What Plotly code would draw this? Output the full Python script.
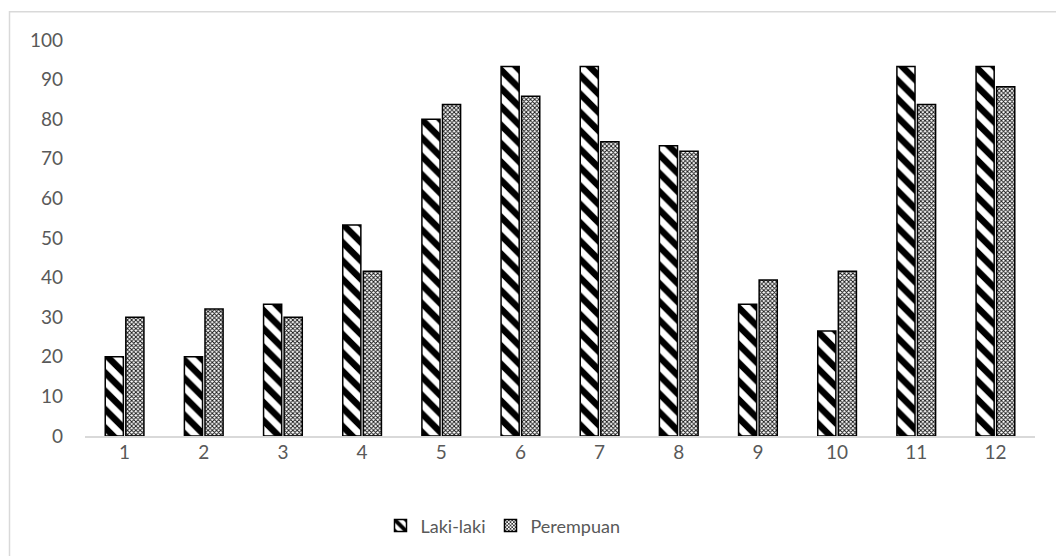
import plotly.graph_objects as go

# Category labels and series values
categories = ["1", "2", "3", "4", "5", "6", "7", "8", "9", "10", "11", "12"]
laki_laki = [20, 20, 33.3, 53.3, 80, 93.3, 93.3, 73.3, 33.3, 26.5, 93.3, 93.3]
perempuan = [30, 32.1, 30, 41.6, 83.7, 85.8, 74.3, 71.9, 39.4, 41.6, 83.7, 88.2]
y_ticks = [0, 10, 20, 30, 40, 50, 60, 70, 80, 90, 100]

FONT = "Lato"
TEXT_COLOR = "#595959"
FSIZE = 19
W, H = 1056, 556
ML, MR, MT, MB = 85, 21, 40, 116

fig = go.Figure()
fig.add_trace(go.Bar(
    x=categories, y=laki_laki, name="Laki-laki",
    marker=dict(
        color="white",
        line=dict(color="black", width=1.5),
        pattern=dict(shape="\\", fgcolor="black", bgcolor="white", fgopacity=1,
                     size=13, solidity=0.5, fillmode="replace"),
    ),
))
fig.add_trace(go.Bar(
    x=categories, y=perempuan, name="Perempuan",
    marker=dict(
        color="white",
        line=dict(color="black", width=1.5),
        pattern=dict(shape="x", fgcolor="#111111", bgcolor="white", fgopacity=1,
                     size=3, solidity=0.5, fillmode="replace"),
    ),
))

# Outer chart-area frame (only left and top edges fall inside the page)
pw = W - ML - MR
ph = H - MT - MB
fig.add_shape(
    type="rect", xref="paper", yref="paper",
    x0=(9.5 - ML) / pw, x1=(W + 20 - ML) / pw,
    y0=-(H + 20 - MT - ph) / ph, y1=(H - MB - 11.5) / ph,
    line=dict(color="#d9d9d9", width=1.5), fillcolor="rgba(0,0,0,0)",
    layer="below",
)

fig.update_layout(
    width=W, height=H,
    margin=dict(l=ML, r=MR, t=MT, b=MB),
    paper_bgcolor="white", plot_bgcolor="white",
    barmode="group", bargap=0.48, bargroupgap=0.12,
    font=dict(family=FONT, size=FSIZE, color=TEXT_COLOR),
    showlegend=True,
    legend=dict(
        orientation="h", x=0.44, xanchor="center", y=-0.18, yanchor="top",
        font=dict(family=FONT, size=FSIZE - 1, color=TEXT_COLOR),
        itemwidth=30, traceorder="normal",
    ),
    xaxis=dict(
        type="category", showline=True, linecolor="#d9d9d9", linewidth=1.5,
        showgrid=False, ticks="", ticklabelstandoff=-2,
        tickfont=dict(family=FONT, size=FSIZE, color=TEXT_COLOR),
    ),
    yaxis=dict(
        range=[0, 100], tickvals=y_ticks, showgrid=False, zeroline=False,
        showline=False, ticks="", ticklabelstandoff=21,
        tickfont=dict(family=FONT, size=FSIZE, color=TEXT_COLOR),
    ),
)

fig.write_html("out.html")
